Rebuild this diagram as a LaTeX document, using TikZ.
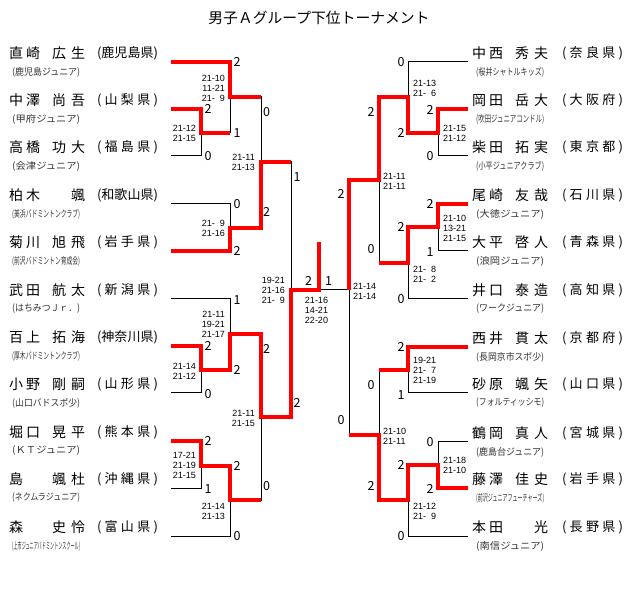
\documentclass[tikz,border=0pt]{standalone}
\usepackage{fontspec}
\usepackage{graphicx}
\setmainfont{Noto Sans CJK JP}
\newfontfamily\numfont{Liberation Sans}
\newcommand\nm[4]{\makebox[17pt][l]{#1}\makebox[26pt][l]{#2}\makebox[19pt][l]{#3}\makebox[14pt][l]{#4}}
\newcommand\pf[1]{\makebox[61pt][s]{#1}}
\newcommand\club[1]{\resizebox{68pt}{\height}{#1}}
\tikzset{
  bl/.style={draw=black, line width=1pt},
  rd/.style={draw=red, line width=3.6pt, line join=miter},
  nmtext/.style={anchor=west, inner sep=0pt, font=\fontsize{14}{16}\selectfont},
  pftext/.style={anchor=center, inner sep=0pt, font=\fontsize{13}{15}\selectfont},
  cltext/.style={anchor=west, inner sep=0pt, font=\fontsize{9.5}{11}\selectfont, text=black!80},
  dg/.style={inner sep=0pt, font=\fontsize{12.5}{14}\selectfont},
  gsL/.style={anchor=east, inner sep=0pt, align=right, font=\numfont\fontsize{9}{10}\selectfont},
  gsR/.style={anchor=west, inner sep=0pt, align=left, font=\numfont\fontsize{9}{10}\selectfont},
  gsC/.style={anchor=center, inner sep=0pt, align=center, font=\numfont\fontsize{9}{10}\selectfont},
}
\newcommand\playerL[5]{%
  \node[nmtext] (nL#1) at (9,#2-9) {\nm#3};
  \node[pftext] (fL#1) at (127.5,#2-9) {\pf{#4}};
  \node[cltext] (cL#1) at (12,#2+10) {\club{#5}};
  \coordinate (pL#1) at (171,#2);
}
\newcommand\playerR[5]{%
  \node[nmtext] (nR#1) at (472,#2-9) {\nm#3};
  \node[pftext] (fR#1) at (592.5,#2-9) {\pf{#4}};
  \node[cltext] (cR#1) at (476,#2+10) {\club{#5}};
  \coordinate (pR#1) at (468,#2);
}
\begin{document}
\begin{tikzpicture}[x=1pt,y=-1pt]
\fill[white] (0,0) rectangle (640,593);
\useasboundingbox (0,0) rectangle (640,593);

\node[inner sep=0pt, font=\fontsize{14.8}{16}\selectfont] (title) at (319,18) {男子Ａグループ下位トーナメント};

% left players
\playerL{1}{62}{{直}{崎}{広}{生}}{(\hfill 鹿\hfill 児\hfill 島\hfill 県\hfill)}{(鹿児島ジュニア)}
\playerL{2}{109}{{中}{澤}{尚}{吾}}{(\hfill 山\hfill 梨\hfill 県\hfill)}{(甲府ジュニア)}
\playerL{3}{156}{{高}{橋}{功}{大}}{(\hfill 福\hfill 島\hfill 県\hfill)}{(会津ジュニア)}
\playerL{4}{204}{{柏}{木}{}{颯}}{(\hfill 和\hfill 歌\hfill 山\hfill 県\hfill)}{(美浜バドミントンクラブ)}
\playerL{5}{251}{{菊}{川}{旭}{飛}}{(\hfill 岩\hfill 手\hfill 県\hfill)}{(前沢バドミントン育成会)}
\playerL{6}{299}{{武}{田}{航}{太}}{(\hfill 新\hfill 潟\hfill 県\hfill)}{(はちみつＪｒ．)}
\playerL{7}{346}{{百}{上}{拓}{海}}{(\hfill 神\hfill 奈\hfill 川\hfill 県\hfill)}{(厚木バドミントンクラブ)}
\playerL{8}{393}{{小}{野}{剛}{嗣}}{(\hfill 山\hfill 形\hfill 県\hfill)}{(山口バドスポ少)}
\playerL{9}{441}{{堀}{口}{晃}{平}}{(\hfill 熊\hfill 本\hfill 県\hfill)}{(ＫＴジュニア)}
\playerL{10}{488}{{島}{}{颯}{杜}}{(\hfill 沖\hfill 縄\hfill 県\hfill)}{(ネクムラジュニア)}
\playerL{11}{536}{{森}{}{史}{怜}}{(\hfill 富\hfill 山\hfill 県\hfill)}{(上市ジュニアバドミントンスクール)}

% right players
\playerR{1}{62}{{中}{西}{秀}{夫}}{(\hfill 奈\hfill 良\hfill 県\hfill)}{(桜井シャトルキッズ)}
\playerR{2}{109}{{岡}{田}{岳}{大}}{(\hfill 大\hfill 阪\hfill 府\hfill)}{(吹田ジュニアコンドル)}
\playerR{3}{156}{{柴}{田}{拓}{実}}{(\hfill 東\hfill 京\hfill 都\hfill)}{(小平ジュニアクラブ)}
\playerR{4}{204}{{尾}{崎}{友}{哉}}{(\hfill 石\hfill 川\hfill 県\hfill)}{(大徳ジュニア)}
\playerR{5}{251}{{大}{平}{啓}{人}}{(\hfill 青\hfill 森\hfill 県\hfill)}{(浪岡ジュニア)}
\playerR{6}{299}{{井}{口}{泰}{造}}{(\hfill 高\hfill 知\hfill 県\hfill)}{(ワークジュニア)}
\playerR{7}{347}{{西}{井}{貫}{太}}{(\hfill 京\hfill 都\hfill 府\hfill)}{(長岡京市スポ少)}
\playerR{8}{393}{{砂}{原}{颯}{矢}}{(\hfill 山\hfill 口\hfill 県\hfill)}{(フォルティッシモ)}
\playerR{9}{442}{{鶴}{岡}{真}{人}}{(\hfill 宮\hfill 城\hfill 県\hfill)}{(鹿島台ジュニア)}
\playerR{10}{488}{{藤}{澤}{佳}{史}}{(\hfill 岩\hfill 手\hfill 県\hfill)}{(前沢ジュニアフューチャーズ)}
\playerR{11}{536}{{本}{田}{}{光}}{(\hfill 長\hfill 野\hfill 県\hfill)}{(南信ジュニア)}

% columns
\coordinate (X1) at (201,0); \coordinate (X2) at (230,0);
\coordinate (X3) at (261,0); \coordinate (X4) at (291,0);
\coordinate (Y1) at (438,0); \coordinate (Y2) at (408,0);
\coordinate (Y3) at (379,0); \coordinate (Y4) at (349,0);
% match points left
\coordinate (a1) at (201,133); \coordinate (a2) at (230,97);
\coordinate (a3) at (230,228); \coordinate (a4) at (261,162);
\coordinate (a5) at (201,370); \coordinate (a6) at (230,334);
\coordinate (a7) at (201,466); \coordinate (a8) at (230,500);
\coordinate (a9) at (261,417); \coordinate (a10) at (291,290);
% match points right
\coordinate (b1) at (438,133); \coordinate (b2) at (408,97);
\coordinate (b3) at (438,227); \coordinate (b4) at (408,263);
\coordinate (b5) at (379,180); \coordinate (b6) at (408,370);
\coordinate (b7) at (438,465); \coordinate (b8) at (408,500);
\coordinate (b9) at (379,435); \coordinate (b10) at (349,290);
\coordinate (f) at (319,290); \coordinate (champ) at (319,242);

% black skeleton left
\draw[bl] (pL1) -- (pL1 -| X2) -- (a1 -| X2);
\draw[bl] (pL2) -- (pL2 -| X1) -- (pL3 -| X1) -- (pL3);
\draw[bl] (a1) -- (a1 -| X2);
\draw[bl] (pL4) -- (pL4 -| X2) -- (pL5 -| X2) -- (pL5);
\draw[bl] (a2) -- (a2 -| X3) -- (a3 -| X3) -- (a3);
\draw[bl] (a4) -- (a4 -| X4) -- (a9 -| X4) -- (a9);
\draw[bl] (pL6) -- (pL6 -| X2) -- (a5 -| X2) -- (a5);
\draw[bl] (pL7) -- (pL7 -| X1) -- (pL8 -| X1) -- (pL8);
\draw[bl] (a6) -- (a6 -| X3) -- (a8 -| X3) -- (a8);
\draw[bl] (pL9) -- (pL9 -| X1) -- (pL10 -| X1) -- (pL10);
\draw[bl] (a7) -- (a7 -| X2) -- (pL11 -| X2) -- (pL11);
\draw[bl] (a10) -- (f);
% black skeleton right
\draw[bl] (pR1) -- (pR1 -| Y2) -- (b1 -| Y2) -- (b1);
\draw[bl] (pR2) -- (pR2 -| Y1) -- (pR3 -| Y1) -- (pR3);
\draw[bl] (pR4) -- (pR4 -| Y1) -- (pR5 -| Y1) -- (pR5);
\draw[bl] (b3) -- (b3 -| Y2) -- (pR6 -| Y2) -- (pR6);
\draw[bl] (b2) -- (b2 -| Y3) -- (b4 -| Y3) -- (b4);
\draw[bl] (b5) -- (b5 -| Y4) -- (b9 -| Y4) -- (b9);
\draw[bl] (pR7) -- (pR7 -| Y2) -- (pR8 -| Y2) -- (pR8);
\draw[bl] (pR9) -- (pR9 -| Y1) -- (pR10 -| Y1) -- (pR10);
\draw[bl] (b7) -- (b7 -| Y2) -- (pR11 -| Y2) -- (pR11);
\draw[bl] (b6) -- (b6 -| Y3) -- (b8 -| Y3) -- (b8);
\draw[bl] (b10) -- (f);

% red winner paths left
\draw[rd] (pL1) -- (pL1 -| X2) -- (a2) -- (a2 -| X3);
\draw[rd] (pL2) -- (pL2 -| X1) -- (a1) -- (a1 -| X2);
\draw[rd] (pL5) -- (pL5 -| X2) -- (a3) -- (a3 -| X3) -- (a4) -- (a4 -| X4);
\draw[rd] (pL7) -- (pL7 -| X1) -- (a5) -- (a5 -| X2) -- (a6) -- (a6 -| X3) -- (a9) -- (a9 -| X4) -- (a10) -- (f) -- (champ);
\draw[rd] (pL9) -- (pL9 -| X1) -- (a7) -- (a7 -| X2) -- (a8) -- (a8 -| X3);
% red winner paths right
\draw[rd] (pR2) -- (pR2 -| Y1) -- (b1) -- (b1 -| Y2) -- (b2) -- (b2 -| Y3) -- (b5) -- (b5 -| Y4) -- (b10);
\draw[rd] (pR4) -- (pR4 -| Y1) -- (b3) -- (b3 -| Y2) -- (b4) -- (b4 -| Y3);
\draw[rd] (pR7) -- (pR7 -| Y2) -- (b6) -- (b6 -| Y3);
\draw[rd] (pR10) -- (pR10 -| Y1) -- (b7) -- (b7 -| Y2) -- (b8) -- (b8 -| Y3) -- (b9) -- (b9 -| Y4);

% game counts left
\node[dg] (sL1) at (237,62) {2};
\node[dg] (sL2) at (237,133) {1};
\node[dg] (sL3) at (208,109) {2};
\node[dg] (sL4) at (208,156) {0};
\node[dg] (sL5) at (237,204) {0};
\node[dg] (sL6) at (237,251) {2};
\node[dg] (sL7) at (266.5,112) {0};
\node[dg] (sL8) at (266.5,212) {2};
\node[dg] (sL9) at (297,177) {1};
\node[dg] (sL10) at (297,403) {2};
\node[dg] (sL11) at (237,300) {1};
\node[dg] (sL12) at (237,370) {2};
\node[dg] (sL13) at (208,346) {2};
\node[dg] (sL14) at (208,394) {0};
\node[dg] (sL15) at (208,441) {2};
\node[dg] (sL16) at (208,489) {1};
\node[dg] (sL17) at (237,466) {2};
\node[dg] (sL18) at (237,536) {0};
\node[dg] (sL19) at (266.5,349) {2};
\node[dg] (sL20) at (266.5,486) {0};
\node[dg] (sF1) at (308.5,281) {2};
\node[dg] (sF2) at (328.5,281) {1};
% game counts right
\node[dg] (sR1) at (401,62) {0};
\node[dg] (sR2) at (401,133) {2};
\node[dg] (sR3) at (430,110) {2};
\node[dg] (sR4) at (430,156) {0};
\node[dg] (sR5) at (430,204) {2};
\node[dg] (sR6) at (430,252) {1};
\node[dg] (sR7) at (401,227) {2};
\node[dg] (sR8) at (401,299) {0};
\node[dg] (sR9) at (371,112) {2};
\node[dg] (sR10) at (371,249) {0};
\node[dg] (sR11) at (341,194) {2};
\node[dg] (sR12) at (341,420) {0};
\node[dg] (sR13) at (401,347) {2};
\node[dg] (sR14) at (401,395) {1};
\node[dg] (sR15) at (371,385) {0};
\node[dg] (sR16) at (371,486) {2};
\node[dg] (sR17) at (430,442) {0};
\node[dg] (sR18) at (430,489) {2};
\node[dg] (sR19) at (401,465) {2};
\node[dg] (sR20) at (401,536) {0};

% set scores left
\node[gsL] (gL1) at (225,88) {21-10\\11-21\\21-\phantom{0}9};
\node[gsL] (gL2) at (196,133) {21-12\\21-15};
\node[gsL] (gL3) at (255,162) {21-11\\21-13};
\node[gsL] (gL4) at (225,228) {21-\phantom{0}9\\21-16};
\node[gsL] (gL5) at (285,290) {19-21\\21-16\\21-\phantom{0}9};
\node[gsL] (gL6) at (225,324) {21-11\\19-21\\21-17};
\node[gsL] (gL7) at (196,371) {21-14\\21-12};
\node[gsL] (gL8) at (196,465) {17-21\\21-19\\21-15};
\node[gsL] (gL9) at (225,511) {21-14\\21-13};
\node[gsL] (gL10) at (255,418) {21-11\\21-15};
\node[gsC] (gF) at (316.5,310.5) {21-16\\14-21\\22-20};
% set scores right
\node[gsR] (gR1) at (413,88) {21-13\\21-\phantom{0}6};
\node[gsR] (gR2) at (443,133) {21-15\\21-12};
\node[gsR] (gR3) at (383,181) {21-11\\21-11};
\node[gsR] (gR4) at (443,228) {21-10\\13-21\\21-15};
\node[gsR] (gR5) at (413,274) {21-\phantom{0}8\\21-\phantom{0}2};
\node[gsR] (gR6) at (353,291) {21-14\\21-14};
\node[gsR] (gR7) at (413,370) {19-21\\21-\phantom{0}7\\21-19};
\node[gsR] (gR8) at (383,436) {21-10\\21-11};
\node[gsR] (gR9) at (443,465) {21-18\\21-10};
\node[gsR] (gR10) at (413,511) {21-12\\21-\phantom{0}9};
\end{tikzpicture}
\end{document}
